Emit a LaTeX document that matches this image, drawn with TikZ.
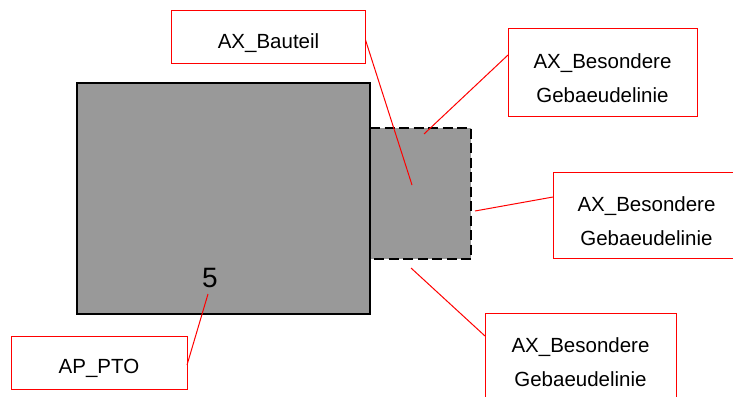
\documentclass[tikz,border=0pt]{standalone}
\usepackage{fontspec}
\setmainfont{Liberation Sans}
\usetikzlibrary{calc}
\begin{document}
\begin{tikzpicture}[x=1pt,y=-1pt,
  lbox/.style={draw=red, line width=1pt, inner sep=0pt, outer sep=0pt},
  ltxt/.style={align=center, inner sep=0pt, font=\fontsize{20.5}{34}\selectfont},
  leader/.style={draw=red, line width=1pt},
  part/.style={fill=black!40, draw=black, line width=2pt}]
\useasboundingbox (0,0) rectangle (733,396);
\clip (0,0) rectangle (733,396);
% shapes
\fill[black!40] (370,128) rectangle (471,259);
\draw[line width=2.5pt, dash pattern=on 10pt off 4.5pt] (370,128) -- (471,128) -- (471,259) -- (370,259);
\node[part, minimum width=293pt, minimum height=231pt, inner sep=0pt] (haus) at (223.5,198.5) {};
\node[inner sep=0pt, font=\fontsize{28}{30}\selectfont] (num) at (210,278) {5};
% coordinates on shapes
\coordinate (p1) at (412,185);
\coordinate (p2) at (424,134);
\coordinate (p3) at (475,211);
\coordinate (p4) at (411,268);
\coordinate (p5) at (208,294);
% boxes
\node[lbox, minimum width=194pt, minimum height=53pt] (b1) at (268.5,37.5) {};
\node[ltxt] at ($(b1.center)+(0,5.5)$) {AX\_Bauteil};
\node[lbox, minimum width=189pt, minimum height=87pt] (b2) at (602.5,72.5) {};
\node[ltxt] at ($(b2.center)+(0,6)$) {AX\_Besondere\\Gebaeudelinie};
\node[lbox, minimum width=187pt, minimum height=86pt] (b3) at (646.5,215) {};
\node[ltxt] at ($(b3.center)+(0,6)$) {AX\_Besondere\\Gebaeudelinie};
\node[lbox, minimum width=191pt, minimum height=87pt] (b4) at (580.5,356.5) {};
\node[ltxt] at ($(b4.center)+(0,5.5)$) {AX\_Besondere\\Gebaeudelinie};
\node[lbox, minimum width=176pt, minimum height=53pt] (b5) at (99,362.5) {};
\node[ltxt] at ($(b5.center)+(0,5.5)$) {AP\_PTO};
% leaders
\draw[leader] ($(b1.east)+(0,2.5)$) -- (p1);
\draw[leader] ($(b2.west)+(0,-17.5)$) -- (p2);
\draw[leader] ($(b3.west)+(0,-18)$) -- (p3);
\draw[leader] ($(b4.west)+(0,-20.5)$) -- (p4);
\draw[leader] ($(b5.east)+(0,2.5)$) -- (p5);
\end{tikzpicture}
\end{document}
